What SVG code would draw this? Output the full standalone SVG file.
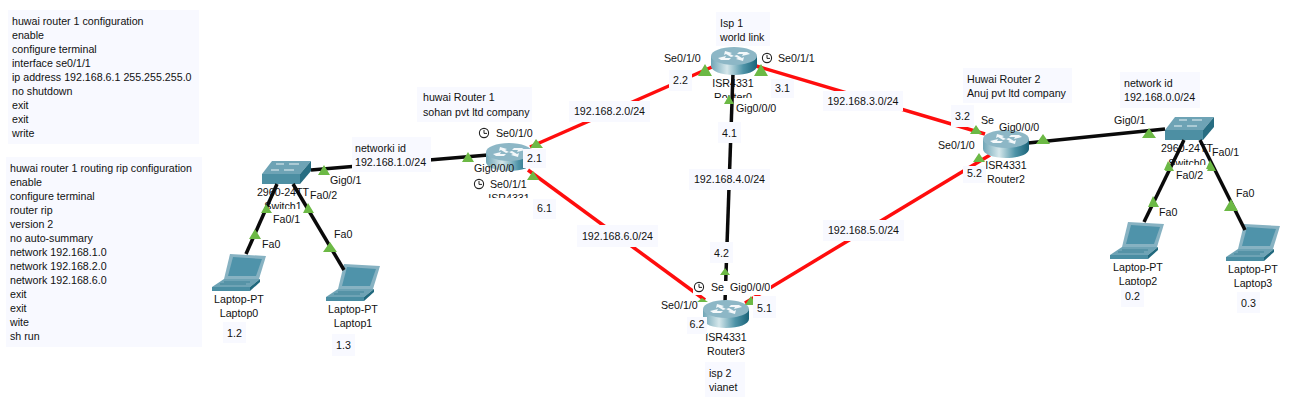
<svg xmlns="http://www.w3.org/2000/svg" width="1306" height="411" viewBox="0 0 1306 411">
<style>
text{font-family:"Liberation Sans",Arial,sans-serif;font-size:10.67px;fill:#111}
.m{text-anchor:middle}
.note{fill:#f8f9ff}
.red{stroke:#ff0d0d;stroke-width:3.5;fill:none}
.blk{stroke:#0a0a0a;stroke-width:3.5;fill:none}
.tri{fill:#6cb945}
.clk{fill:#fff;stroke:#222;stroke-width:1.1}
</style>
<defs>
<linearGradient id="cyl" x1="0" x2="1" y1="0" y2="0"><stop offset="0" stop-color="#6fa5b6"/><stop offset=".35" stop-color="#d5e7eb"/><stop offset=".7" stop-color="#4f94a8"/><stop offset="1" stop-color="#1a6379"/></linearGradient>
<symbol id="router" width="46" height="28" viewBox="0 0 46 28" overflow="visible">
<path d="M0 9V19C0 24 10 28 23 28S46 24 46 19V9Z" fill="url(#cyl)"/>
<ellipse cx="23" cy="9" rx="23" ry="9" fill="#8db7c6"/>
<path d="M7 11l8-2-1 2 6 0-2 2-8 0zM39 7l-8 2 1-2-6 0 2-2 8 0zM14 4l7 2-2 1 4 2-3 1-5-3-2 1zM32 14l-7-2 2-1-4-2 3-1 5 3 2-1z" fill="#f4f8fa"/>
</symbol>
<symbol id="switch" width="49" height="23" viewBox="0 0 49 23" overflow="visible">
<path d="M10 0H49L38 13H0Z" fill="#6ea3b5"/><path d="M0 13H38V23H0Z" fill="#4d8fa3"/><path d="M38 13L49 0V10L38 23Z" fill="#276d82"/>
<path d="M14 3h8M27 3h10M9 9h8M22 9h10" stroke="#e8f2f5" stroke-width="1"/>
</symbol>
<symbol id="laptop" width="54" height="37" viewBox="0 0 54 37" overflow="visible">
<path d="M18 0L54 2L47 25L12 25Z" fill="#87b2c2"/><path d="M21 3L50 5L44 22L16 22Z" fill="#4f93aa"/>
<path d="M12 25L48 25L38 33L0 33Z" fill="#6ea3b5"/><path d="M0 33H38V37H0Z" fill="#4a8ea3"/><path d="M38 33L48 25V28L38 37Z" fill="#20687d"/>
<path d="M12 28h26M8 30h26" stroke="#3f8398" stroke-width="1"/>
</symbol>
<symbol id="clock" width="12" height="12" viewBox="0 0 12 12" overflow="visible">
<circle class="clk" cx="6" cy="6" r="4.6"/><path d="M6 3V6.4H9" fill="none" stroke="#222" stroke-width="1"/>
</symbol>
<clipPath id="c0"><rect x="700" y="70" width="70" height="28"/></clipPath>
<clipPath id="cs1"><rect x="250" y="186" width="70" height="23"/></clipPath>
<clipPath id="cs0"><rect x="1150" y="140" width="80" height="25"/></clipPath>
<clipPath id="c1"><rect x="480" y="190" width="60" height="8"/></clipPath>
</defs>
<rect width="1306" height="411" fill="#fff"/>

<g id="config-notes">
<rect class="note" x="8" y="10" width="191" height="134"/>
<text x="12" y="25">huwai router 1 configuration</text>
<text x="12" y="39">enable</text>
<text x="12" y="53">configure terminal</text>
<text x="12" y="67">interface se0/1/1</text>
<text x="12" y="81">ip address 192.168.6.1 255.255.255.0</text>
<text x="12" y="95">no shutdown</text>
<text x="12" y="109">exit</text>
<text x="12" y="123">exit</text>
<text x="12" y="137">write</text>
<rect class="note" x="6" y="157" width="196" height="190"/>
<text x="10" y="172">huwai router 1 routing rip configuration</text>
<text x="10" y="186">enable</text>
<text x="10" y="200">configure terminal</text>
<text x="10" y="214">router rip</text>
<text x="10" y="228">version 2</text>
<text x="10" y="242">no auto-summary</text>
<text x="10" y="256">network 192.168.1.0</text>
<text x="10" y="270">network 192.168.2.0</text>
<text x="10" y="284">network 192.168.6.0</text>
<text x="10" y="298">exit</text>
<text x="10" y="312">exit</text>
<text x="10" y="326">wite</text>
<text x="10" y="340">sh run</text>
</g>

<g id="Switch1"><use href="#switch" x="262" y="161"/><text class="m" x="283" y="196">2960-24TT</text><text class="m" x="283" y="210" clip-path="url(#cs1)">Switch1</text></g>
<g id="Switch0"><use href="#switch" x="1165" y="117"/><text class="m" x="1187" y="152">2960-24TT</text><text class="m" x="1187" y="167" clip-path="url(#cs0)">Switch0</text></g>
<g id="Laptop0"><use href="#laptop" x="212" y="254"/><text class="m" x="239" y="303">Laptop-PT</text><text class="m" x="239" y="317">Laptop0</text></g>
<g id="Laptop1"><use href="#laptop" x="326" y="264"/><text class="m" x="353" y="313">Laptop-PT</text><text class="m" x="353" y="327">Laptop1</text></g>
<g id="Laptop2"><use href="#laptop" x="1110" y="222"/><text class="m" x="1138" y="271">Laptop-PT</text><text class="m" x="1138" y="285">Laptop2</text></g>
<g id="Laptop3"><use href="#laptop" x="1226" y="224"/><text class="m" x="1253" y="273">Laptop-PT</text><text class="m" x="1253" y="287">Laptop3</text></g>
<g id="Router0"><text class="m" x="733" y="87">ISR4331</text><text class="m" x="733" y="101" clip-path="url(#c0)">Router0</text></g>
<g id="Router1"><text class="m" x="509" y="202" clip-path="url(#c1)">ISR4331</text></g>
<g id="Router2"><text class="m" x="1006" y="169">ISR4331</text><text class="m" x="1006" y="183">Router2</text></g>
<g id="Router3"><text class="m" x="726" y="341">ISR4331</text><text class="m" x="726" y="355">Router3</text></g>

<g id="connectors">
<path class="blk" d="M277 184L246 254"/>
<path class="blk" d="M293 184L344 270"/>
<path class="blk" d="M311 170L488 155"/>
<path class="blk" d="M733 73L725 302"/>
<path class="blk" d="M1028 143L1165 129"/>
<path class="blk" d="M1184 140L1144 222"/>
<path class="blk" d="M1200 140L1245 230"/>
<path class="red" d="M530 147L712 67"/>
<path class="red" d="M528 170L705 300"/>
<path class="red" d="M756 66L985 134"/>
<path class="red" d="M745 303L990 155"/>
</g>
<g id="router-icons">
<use href="#router" x="711" y="47"/><use href="#router" x="486" y="143"/><use href="#router" x="983" y="130"/><use href="#router" x="703" y="300"/>
</g>
<g id="port-markers" class="tri">
<path d="M266 204l6 9h-11zM255 229l6 10h-12zM308 203l6 10h-11zM330 242l7 10h-14zM324 165l6 10h-12zM468 152l6 10h-12zM536 139l7 9h-13zM533 171l6 9h-12z"/>
<path d="M705 64l7 12h-14zM761 64l7 12h-14zM729 95l5 9h-10zM725 268l5 7h-10zM702 298l6 4h-11zM751 296l5 9h-11z"/>
<path d="M976 125l6 9h-12zM979 153l6 9h-12zM1043 134l7 10h-14zM1149 128l7 10h-14zM1169 162l5 9h-9zM1211 162l5 9h-9zM1153 196l6 11h-11zM1231 199l7 12h-14zM1168 161l5 9h-9zM1210 160l5 9h-9z"/>
</g>
<g id="port-labels">
<rect x="693" y="281" width="78" height="14" fill="#fff"/>
<text x="330" y="184">Gig0/1</text><text x="310" y="199">Fa0/2</text><text x="273" y="223">Fa0/1</text><text x="262" y="248">Fa0</text><text x="334" y="238">Fa0</text>
<use href="#clock" x="478" y="127"/><text x="496" y="137">Se0/1/0</text>
<text x="474" y="172">Gig0/0/0</text>
<use href="#clock" x="473" y="178"/><text x="490" y="188">Se0/1/1</text>
<text x="664" y="62">Se0/1/0</text>
<use href="#clock" x="761" y="52"/><text x="778" y="62">Se0/1/1</text>
<text x="736" y="112">Gig0/0/0</text>
<use href="#clock" x="693" y="281"/><text x="711" y="291">Se</text>
<text x="730" y="291">Gig0/0/0</text>
<text x="661" y="309">Se0/1/0</text>
<text x="981" y="124">Se</text>
<text x="999" y="131">Gig0/0/0</text>
<text x="938" y="149">Se0/1/0</text>
<text x="1114" y="124">Gig0/1</text><text x="1212" y="156">Fa0/1</text><text x="1176" y="179">Fa0/2</text><text x="1159" y="216">Fa0</text><text x="1236" y="197">Fa0</text>
</g>

<g id="labels">
<g class="note">
<rect x="352" y="137" width="79" height="35"/><rect x="417" y="87" width="115" height="35"/><rect x="716" y="12" width="54" height="34"/>
<rect x="705" y="362" width="40" height="35"/><rect x="963" y="68" width="109" height="35"/><rect x="1120" y="72" width="80" height="36"/>
<rect x="569" y="101" width="81" height="21"/><rect x="823" y="91" width="80" height="20"/><rect x="689" y="169" width="81" height="21"/><rect x="577" y="225" width="81" height="22"/><rect x="823" y="220" width="81" height="21"/>
<rect x="223" y="322" width="23" height="21"/><rect x="332" y="334" width="23" height="22"/><rect x="523" y="149" width="23" height="19"/><rect x="533" y="199" width="23" height="20"/>
<rect x="669" y="70" width="23" height="21"/><rect x="771" y="79" width="23" height="19"/><rect x="718" y="122" width="23" height="21"/><rect x="710" y="242" width="23" height="21"/>
<rect x="753" y="296" width="23" height="22"/><rect x="687" y="317" width="20" height="17"/><rect x="951" y="105" width="23" height="22"/><rect x="963" y="166" width="23" height="17"/>
<rect x="1121" y="285" width="23" height="22"/><rect x="1237" y="292" width="23" height="21"/>
</g>
<text x="355" y="152">networki id</text><text x="355" y="166">192.168.1.0/24</text>
<text x="423" y="101">huwai Router 1</text><text x="423" y="116">sohan pvt ltd company</text>
<text x="720" y="27">Isp 1</text><text x="720" y="41">world link</text>
<text x="709" y="377">isp 2</text><text x="709" y="391">vianet</text>
<text x="967" y="83">Huwai Router 2</text><text x="967" y="97">Anuj pvt ltd company</text>
<text x="1124" y="87">network id</text><text x="1124" y="101">192.168.0.0/24</text>
<text class="m" x="609.500" y="115">192.168.2.0/24</text><text class="m" x="863" y="105">192.168.3.0/24</text><text class="m" x="729.500" y="183">192.168.4.0/24</text><text class="m" x="617.500" y="240">192.168.6.0/24</text><text class="m" x="863.500" y="234">192.168.5.0/24</text>
<text class="m" x="234.500" y="337">1.2</text><text class="m" x="343.500" y="349">1.3</text><text class="m" x="534.500" y="162">2.1</text><text class="m" x="544.500" y="212">6.1</text>
<text class="m" x="680.500" y="84">2.2</text><text class="m" x="782.500" y="92">3.1</text><text class="m" x="729.500" y="137">4.1</text><text class="m" x="721.500" y="257">4.2</text>
<text class="m" x="764.500" y="312">5.1</text><text class="m" x="697" y="328">6.2</text><text class="m" x="962.500" y="120">3.2</text><text class="m" x="974.500" y="177">5.2</text>
<text class="m" x="1132.500" y="300">0.2</text><text class="m" x="1248.500" y="307">0.3</text>
</g>
</svg>
